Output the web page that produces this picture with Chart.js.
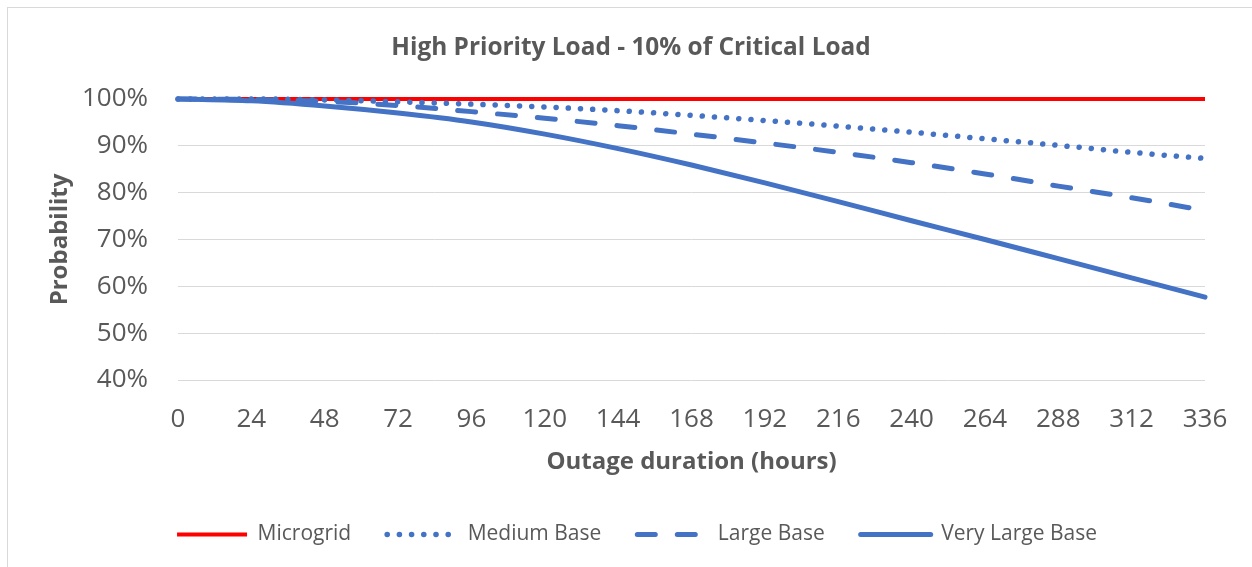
<!DOCTYPE html>
<html>
<head>
<meta charset="utf-8">
<title>High Priority Load - 10% of Critical Load</title>
<script src="https://cdn.jsdelivr.net/npm/chart.js@4.4.1/dist/chart.umd.min.js"></script>
<style>
    html, body { margin: 0; padding: 0; background: #fff; overflow: hidden; }
    #frame {
        position: absolute; left: 7px; top: 7px; width: 1300px; height: 620px;
        border: 1px solid #d9d9d9; box-sizing: border-box;
    }
    #wrap { position: absolute; left: 0; top: 0; width: 1252px; height: 567px; }
</style>
</head>
<body>
<div id="frame"></div>
<div id="wrap"><canvas id="loadChart" width="1252" height="567"></canvas></div>
<script>
// Outage duration (hours) and survival probability (%) per scenario
const hours = [0, 24, 48, 72, 96, 120, 144, 168, 192, 216, 240, 264, 288, 312, 336];
const microgrid = [100, 100, 100, 100, 100, 100, 100, 100, 100, 100, 100, 100, 100, 100, 100];
const mediumBase = [100, 100, 99.8, 99.4, 98.9, 98.3, 97.5, 96.5, 95.4, 94.2, 92.9, 91.5, 90.1, 88.6, 87.3];
const largeBase = [100, 99.9, 99.5, 98.6, 97.3, 95.9, 94.3, 92.5, 90.6, 88.6, 86.4, 84.0, 81.4, 78.9, 76.2];
const veryLargeBase = [100, 99.6, 98.5, 97.0, 95.1, 92.5, 89.4, 85.9, 82.1, 78.1, 74.0, 70.0, 65.9, 61.8, 57.7];
const seriesNames = ['Microgrid', 'Medium Base', 'Large Base', 'Very Large Base'];

const textGrey = '#595959';
const blue = '#4472C4';
const FONT = "'Open Sans', 'Noto Sans', sans-serif";

function points(values) {
    return values.map((v, i) => ({ x: hours[i], y: v }));
}

// legend samples should use the dataset line style, not the point style
function legendItems(chart) {
    const items = Chart.defaults.plugins.legend.labels.generateLabels(chart);
    items.forEach(item => {
        const ds = chart.data.datasets[item.datasetIndex];
        item.pointStyle = 'line';
        item.strokeStyle = ds.borderColor;
        item.lineWidth = ds.borderWidth;
        item.lineDash = ds.borderDash || [];
        item.lineCap = ds.borderCapStyle || 'butt';
    });
    return items.sort((a, b) => a.datasetIndex - b.datasetIndex);
}

// title and legend sit a little right of the plot centre in the original
const centreShift = {
    id: 'centreShift',
    afterLayout(chart) {
        chart.legend.left += 17;
        chart.legend.right += 17;
        chart.titleBlock.left += 11;
        chart.titleBlock.right += 11;
    }
};

const ctx = document.getElementById('loadChart').getContext('2d');
const loadChart = new Chart(ctx, {
    type: 'line',
    data: {
        datasets: [
            {
                label: seriesNames[0],
                data: points(microgrid),
                borderColor: '#FF0000',
                borderWidth: 4,
                order: 4
            },
            {
                label: seriesNames[1],
                data: points(mediumBase),
                borderColor: blue,
                borderWidth: 5.5,
                borderDash: [0.1, 12.1],
                borderCapStyle: 'round',
                order: 3
            },
            {
                label: seriesNames[2],
                data: points(largeBase),
                borderColor: blue,
                borderWidth: 5,
                borderDash: [18, 22],
                borderCapStyle: 'round',
                order: 2
            },
            {
                label: seriesNames[3],
                data: points(veryLargeBase),
                borderColor: blue,
                borderWidth: 5,
                borderCapStyle: 'round',
                order: 1
            }
        ]
    },
    options: {
        responsive: false,
        animation: false,
        layout: {
            padding: { left: 35, right: 47, top: 0, bottom: 12 }
        },
        elements: {
            point: { radius: 0 },
            line: { cubicInterpolationMode: 'monotone', fill: false }
        },
        datasets: {
            line: { clip: false }
        },
        scales: {
            x: {
                type: 'linear',
                min: 0,
                max: 336,
                border: { display: false },
                grid: { display: false, drawTicks: false },
                ticks: {
                    stepSize: 24,
                    padding: 24,
                    color: textGrey,
                    font: { family: FONT, size: 26 },
                    maxRotation: 0
                },
                title: {
                    display: true,
                    text: 'Outage duration (hours)',
                    color: textGrey,
                    font: { family: FONT, size: 24, weight: 'bold' },
                    padding: { top: 10, bottom: 11.5 }
                },
                afterFit: scale => { scale.height = 108; }
            },
            y: {
                min: 40,
                max: 100,
                border: { display: false },
                grid: { color: '#d9d9d9', lineWidth: 1, drawTicks: false },
                ticks: {
                    stepSize: 10,
                    padding: 30,
                    color: textGrey,
                    font: { family: FONT, size: 26 },
                    callback: v => v + '%'
                },
                title: {
                    display: true,
                    text: 'Probability',
                    color: textGrey,
                    font: { family: FONT, size: 24, weight: 'bold' },
                    padding: { top: 11, bottom: 0 }
                },
                afterFit: scale => { scale.width = 143; }
            }
        },
        plugins: {
            title: {
                display: true,
                text: 'High Priority Load - 10% of Critical Load',
                color: textGrey,
                font: { family: FONT, size: 24.4, weight: 'bold' },
                padding: { top: 33, bottom: 36.7 }
            },
            legend: {
                position: 'bottom',
                labels: {
                    usePointStyle: true,
                    pointStyle: 'line',
                    pointStyleWidth: 70,
                    padding: 36,
                    color: textGrey,
                    font: { family: FONT, size: 21 },
                    generateLabels: legendItems
                }
            },
            tooltip: { enabled: false }
        }
    },
    plugins: [centreShift]
});
</script>
</body>
</html>
